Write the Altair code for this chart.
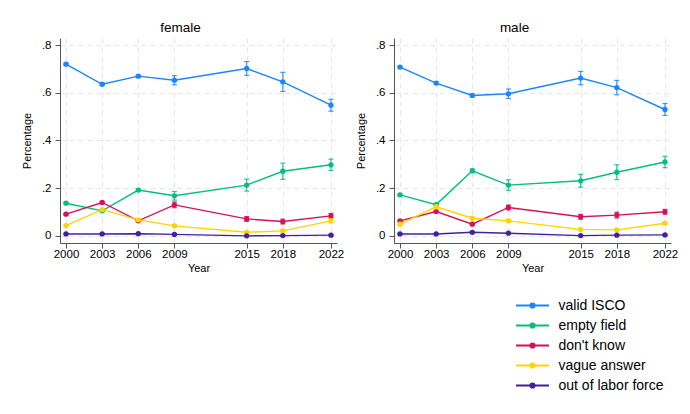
import altair as alt
import pandas as pd

# Survey years
years = [2000, 2003, 2006, 2009, 2015, 2018, 2022]

# Response categories, in legend order, with their colours
categories = ["valid ISCO", "empty field", "don't know", "vague answer", "out of labor force"]
colors = ["#1a85ff", "#00bf7f", "#d41159", "#ffd400", "#40239a"]

# Shares by category and year (female)
female_valid = [0.720, 0.636, 0.670, 0.653, 0.702, 0.646, 0.548]
female_empty = [0.137, 0.105, 0.192, 0.168, 0.213, 0.271, 0.298]
female_dk = [0.091, 0.140, 0.063, 0.130, 0.071, 0.060, 0.084]
female_vague = [0.043, 0.110, 0.067, 0.042, 0.015, 0.021, 0.063]
female_olf = [0.008, 0.008, 0.009, 0.006, 0.000, 0.001, 0.003]

# Half-width of 95% confidence intervals (female)
female_valid_ci = [0.004, 0.005, 0.005, 0.019, 0.029, 0.040, 0.025]
female_empty_ci = [0.004, 0.004, 0.005, 0.018, 0.025, 0.034, 0.024]
female_dk_ci = [0.003, 0.004, 0.004, 0.012, 0.010, 0.010, 0.010]
female_vague_ci = [0.003, 0.004, 0.004, 0.006, 0.004, 0.005, 0.008]
female_olf_ci = [0.001, 0.001, 0.001, 0.002, 0.001, 0.001, 0.002]

# Shares by category and year (male)
male_valid = [0.708, 0.641, 0.589, 0.596, 0.662, 0.622, 0.530]
male_empty = [0.172, 0.131, 0.273, 0.213, 0.231, 0.267, 0.310]
male_dk = [0.063, 0.102, 0.049, 0.119, 0.080, 0.087, 0.101]
male_vague = [0.049, 0.122, 0.074, 0.063, 0.027, 0.025, 0.053]
male_olf = [0.008, 0.008, 0.015, 0.011, 0.001, 0.003, 0.004]

# Half-width of 95% confidence intervals (male)
male_valid_ci = [0.004, 0.006, 0.006, 0.020, 0.028, 0.030, 0.025]
male_empty_ci = [0.004, 0.004, 0.008, 0.022, 0.027, 0.031, 0.024]
male_dk_ci = [0.003, 0.003, 0.004, 0.010, 0.010, 0.012, 0.010]
male_vague_ci = [0.003, 0.004, 0.004, 0.006, 0.004, 0.004, 0.006]
male_olf_ci = [0.001, 0.001, 0.002, 0.002, 0.001, 0.001, 0.002]

series = {
    "female": [
        (female_valid, female_valid_ci),
        (female_empty, female_empty_ci),
        (female_dk, female_dk_ci),
        (female_vague, female_vague_ci),
        (female_olf, female_olf_ci),
    ],
    "male": [
        (male_valid, male_valid_ci),
        (male_empty, male_empty_ci),
        (male_dk, male_dk_ci),
        (male_vague, male_vague_ci),
        (male_olf, male_olf_ci),
    ],
}

rows = []
for sex, groups in series.items():
    for cat, (vals, cis) in zip(categories, groups):
        for yr, v, c in zip(years, vals, cis):
            rows.append({"sex": sex, "year": yr, "category": cat,
                         "value": v, "lo": v - c, "hi": v + c})
df = pd.DataFrame(rows)

FONT = "Liberation Sans"
color_scale = alt.Scale(domain=categories, range=colors)

# Legend symbol: a short line with a dot in the middle
legend = alt.Legend(
    title=None,
    orient="none",
    legendX=461,
    legendY=256,
    direction="vertical",
    symbolType="M-1.65,0L1.65,0M-0.2,0A0.2,0.2,0,1,1,0.2,0A0.2,0.2,0,1,1,-0.2,0",
    symbolSize=400,
    symbolStrokeWidth=2.2,
    labelFontSize=14,
    labelFont=FONT,
    labelColor="#000000",
    labelOffset=14.5,
    rowPadding=1,
)

x_enc = alt.X(
    "year:Q",
    scale=alt.Scale(domain=[1999.5, 2022.5], nice=False, zero=False),
    axis=alt.Axis(values=years, format="d", title="Year", labelFlush=False,
                  labelPadding=0, titlePadding=3),
)
y_scale = alt.Scale(domain=[-0.03, 0.83], nice=False, zero=False)
y_axis = alt.Axis(
    values=[0, 0.2, 0.4, 0.6, 0.8],
    title="Percentage",
    labelPadding=4,
    titlePadding=9,
    labelExpr="datum.value == 0 ? '0' : substring(format(datum.value, '.1f'), 1)",
)


def panel(sex, show_legend):
    base = alt.Chart(df[df["sex"] == sex])
    col_legend = alt.Color("category:N", scale=color_scale,
                           legend=legend if show_legend else None,
                           sort=categories)
    col_plain = alt.Color("category:N", scale=color_scale, legend=None, sort=categories)

    lines = base.mark_line(strokeWidth=1.4).encode(
        x=x_enc, y=alt.Y("value:Q", scale=y_scale, axis=y_axis),
        color=col_legend, detail="category:N",
    )
    bars = base.mark_rule(strokeWidth=1.2, opacity=0.85).encode(
        x="year:Q", y="lo:Q", y2="hi:Q", color=col_plain,
    )
    caps_lo = base.mark_tick(thickness=1.2, size=5, orient="horizontal", opacity=0.85).encode(
        x="year:Q", y="lo:Q", color=col_plain,
    )
    caps_hi = base.mark_tick(thickness=1.2, size=5, orient="horizontal", opacity=0.85).encode(
        x="year:Q", y="hi:Q", color=col_plain,
    )
    points = base.mark_circle(size=28, opacity=1).encode(
        x="year:Q", y="value:Q", color=col_plain,
    )
    return alt.layer(lines, bars, caps_lo, caps_hi, points).properties(
        width=277, height=205,
        title=alt.TitleParams(sex, fontSize=13.5, font=FONT, fontWeight="normal",
                              color="#000000", dx=-18, offset=4),
    )


chart = alt.hconcat(
    panel("female", True), panel("male", False), spacing=11,
).resolve_scale(color="shared").properties(
    padding={"left": 21, "top": 20, "right": 0, "bottom": 0},
    background="white",
).configure_view(stroke=None).configure_axis(
    labelFont=FONT, titleFont=FONT, labelFontSize=11.5, titleFontSize=11,
    labelColor="#000000", titleColor="#000000", titleFontWeight="normal",
    domainColor="#555555", tickColor="#555555", tickSize=5,
    gridColor="#e6e6e6", gridDash=[5, 4], gridWidth=1,
).configure_axisY(labelAngle=0)

chart.save("out.html", embed_options={"renderer": "svg", "actions": False})
